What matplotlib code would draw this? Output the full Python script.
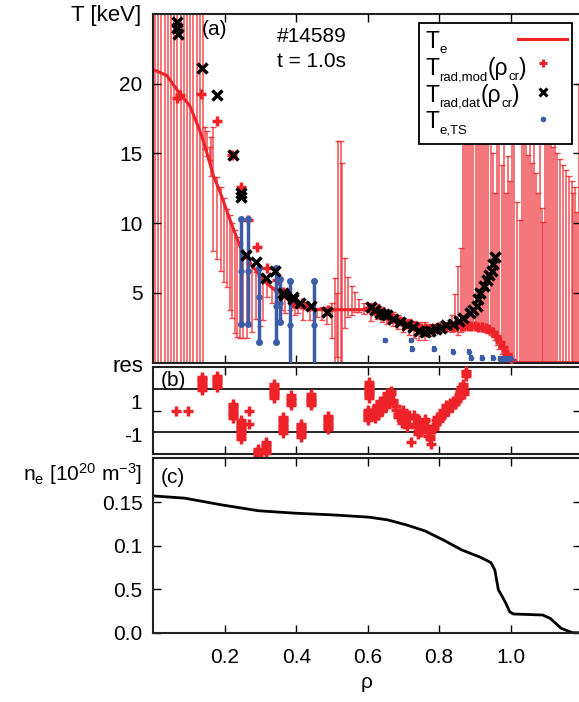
import numpy as np
import matplotlib
matplotlib.use('Agg')
import matplotlib.pyplot as plt
from matplotlib.patches import Rectangle

plt.rcParams['font.family'] = ['Liberation Sans', 'DejaVu Sans']
plt.rcParams['mathtext.fontset'] = 'custom'
plt.rcParams['mathtext.rm'] = 'Liberation Sans'
plt.rcParams['mathtext.it'] = 'Liberation Sans:italic'

# ---- panel (a): temperatures ----
rho_te = [0.0, 0.037, 0.065, 0.102, 0.121, 0.133, 0.150, 0.168, 0.187, 0.215, 0.243, 0.275,
          0.308, 0.345, 0.383, 0.410, 0.440, 0.500, 0.587, 0.620, 0.660, 0.700, 0.746,
          0.780, 0.820, 0.870, 0.915, 0.940, 0.955, 0.970, 0.980, 0.990, 1.005, 1.020, 1.196]
te_line = [21.0, 20.6, 19.6, 18.4, 17.2, 16.4, 15.0, 13.4, 12.2, 10.2, 8.3, 7.0,
           5.9, 5.1, 4.5, 3.95, 3.8, 3.8, 3.8, 3.6, 3.2, 2.85, 2.55,
           2.5, 2.55, 2.6, 2.55, 2.4, 2.1, 1.6, 1.1, 0.6, 0.05, 0.0, 0.0]

# error bars of the synthetic radiation temperature (lower / upper end)
eb_rho = [0.004, 0.013, 0.022, 0.031, 0.040, 0.049, 0.058, 0.067, 0.076, 0.085, 0.094, 0.103,
          0.112, 0.121, 0.130, 0.139,
          0.145, 0.151, 0.157, 0.162, 0.168, 0.177, 0.188, 0.197, 0.207, 0.214, 0.220, 0.228,
          0.235, 0.242, 0.252, 0.261, 0.275, 0.287, 0.298, 0.308, 0.317, 0.331, 0.345, 0.359,
          0.368, 0.382, 0.396, 0.406, 0.420, 0.438, 0.457, 0.471, 0.485, 0.499, 0.508, 0.513,
          0.517, 0.525, 0.528, 0.536, 0.545, 0.555, 0.565, 0.575, 0.590,
          0.610, 0.625, 0.640, 0.655, 0.670, 0.685, 0.700, 0.715, 0.730, 0.745, 0.760, 0.775,
          0.790, 0.805, 0.820, 0.835, 0.845, 0.852, 0.860,
          0.866, 0.872, 0.878, 0.884, 0.890, 0.896, 0.902, 0.908, 0.914, 0.920, 0.926, 0.932,
          0.938, 0.944, 0.951, 0.957, 0.962, 0.968, 0.976, 0.982, 0.988, 0.993, 0.999, 1.005,
          1.011, 1.018, 1.027, 1.033, 1.039, 1.044, 1.049, 1.055, 1.060, 1.066, 1.071, 1.077,
          1.082, 1.088, 1.091, 1.097, 1.103, 1.108, 1.114, 1.119, 1.125, 1.130, 1.139, 1.147,
          1.155, 1.164, 1.172, 1.175, 1.180, 1.186, 1.192]
eb_lo = [0.0] * 16 + \
        [15.3, 14.8, 14.5, 13.4, 8.0, 7.4, 6.6, 5.8, 5.45, 3.8, 3.2, 2.1,
         1.86, 1.8, 1.75, 1.75, 2.2, 3.1, 2.6, 3.05, 4.7, 4.3, 4.4, 3.8,
         3.55, 3.8, 3.4, 3.55, 3.05, 3.05, 3.3, 3.05, 2.8, 1.75, 0.0, 0.4,
         0.0, 0.0, 0.0, 2.5, 3.3, 3.4, 3.6, 3.6, 3.5,
         3.0, 3.1, 2.9, 2.8, 2.6, 2.4, 2.2, 2.0, 1.8, 1.6, 1.6, 1.9,
         2.1, 2.2, 2.3, 2.2, 2.3, 2.0, 2.2,
         2.5, 2.5, 2.4, 2.5, 2.6, 2.5, 2.4, 2.5, 2.4, 2.3, 2.3, 2.2,
         2.1, 2.0, 1.9, 1.6, 1.3, 1.0, 0.6, 0.3, 0.1, 0.0, 0.0, 0.0,
         0.0, 0.0, 0.0, 0.0, 0.0, 0.0, 0.0, 0.0, 0.0, 0.0, 0.0, 0.0,
         0.0, 0.0, 0.0, 0.0, 0.0, 0.0, 0.0, 0.0, 0.0, 0.0, 0.0, 0.0,
         0.0, 0.0, 0.0, 0.0, 0.0, 0.0, 0.0]
eb_hi = [30.0] * 16 + \
        [16.9, 16.6, 15.5, 16.2, 16.9, 13.3, 12.6, 11.8, 11.0, 10.6, 10.0, 9.5,
         9.0, 8.5, 7.9, 7.5, 7.0, 6.5, 6.2, 5.9, 5.7, 5.4, 5.1, 4.9,
         4.8, 4.6, 4.3, 4.1, 4.0, 3.95, 3.9, 4.0, 4.0, 4.3, 6.1, 5.0,
         15.9, 15.9, 14.3, 7.5, 6.15, 5.5, 5.1, 4.6, 4.3,
         4.3, 4.2, 4.0, 3.8, 3.6, 3.4, 3.2, 3.1, 3.0, 2.9, 2.9, 2.8,
         2.8, 2.9, 2.9, 3.4, 4.9, 6.9, 8.2,
         22.0, 24.0, 20.0, 23.0, 24.0, 21.0, 24.0, 22.0, 24.0, 20.0, 23.0, 21.0,
         24.0, 22.0, 15.0, 12.2, 24.0, 22.0, 14.2, 24.0, 12.2, 14.8, 13.0, 23.0,
         21.0, 11.5, 10.2, 24.0, 22.0, 24.0, 14.9, 21.0, 14.3, 23.0, 13.6, 12.2,
         24.0, 11.1, 10.1, 22.0, 24.0, 21.0, 23.0, 15.5, 24.0, 15.0, 14.6, 14.2,
         13.8, 13.4, 13.0, 12.2, 12.6, 10.8, 20.0]

mod_rho = [0.066, 0.074, 0.133, 0.177, 0.221, 0.245, 0.266, 0.290, 0.318, 0.345, 0.363, 0.390,
           0.415, 0.433, 0.489, 0.600, 0.610, 0.620, 0.630, 0.640, 0.650, 0.660, 0.670, 0.680,
           0.690, 0.700, 0.710, 0.720, 0.730, 0.740, 0.750, 0.760, 0.770, 0.780, 0.790, 0.800,
           0.810, 0.820, 0.830, 0.840, 0.850, 0.860, 0.870, 0.880, 0.890, 0.900, 0.910, 0.920,
           0.930, 0.940, 0.950, 0.960, 0.970, 0.980, 0.990, 1.000]
mod_t = [19.0, 19.2, 19.3, 17.3, 14.9, 12.6, 10.2, 8.3, 6.8, 5.9, 5.1, 4.3,
         4.3, 4.1, 3.8, 3.9, 3.8, 3.7, 3.6, 3.55, 3.45, 3.3, 3.2, 3.1,
         3.0, 2.9, 2.8, 2.7, 2.6, 2.55, 2.5, 2.5, 2.45, 2.45, 2.5, 2.5,
         2.55, 2.55, 2.6, 2.6, 2.6, 2.6, 2.65, 2.6, 2.6, 2.6, 2.55, 2.55,
         2.5, 2.4, 2.2, 1.9, 1.5, 1.1, 0.6, 0.2]

dat_rho = [0.066, 0.067, 0.068, 0.135, 0.177, 0.222, 0.244, 0.245, 0.260, 0.288, 0.316, 0.340,
           0.363, 0.365, 0.390, 0.392, 0.410, 0.440, 0.486, 0.610, 0.620, 0.635, 0.645, 0.654,
           0.670, 0.690, 0.710, 0.727, 0.745, 0.760, 0.775, 0.790, 0.805, 0.820, 0.840, 0.855,
           0.868, 0.886, 0.895, 0.905, 0.910, 0.915, 0.925, 0.933, 0.940, 0.947, 0.952, 0.956]
dat_t = [24.4, 24.0, 23.6, 21.1, 19.2, 14.9, 12.2, 11.9, 7.7, 7.2, 6.1, 6.6,
         5.0, 4.85, 4.6, 4.7, 4.3, 4.05, 3.6, 4.0, 3.8, 3.55, 3.5, 3.4,
         3.1, 2.9, 2.7, 2.55, 2.3, 2.2, 2.3, 2.4, 2.5, 2.7, 2.8, 3.0,
         3.2, 3.55, 3.8, 4.1, 4.6, 5.0, 5.5, 5.9, 6.3, 6.6, 7.1, 7.6]

# Thomson scattering
ts_rho = [0.246, 0.266, 0.295, 0.343, 0.355, 0.383, 0.450]
ts_te = [6.6, 6.6, 4.7, 4.1, 4.3, 2.7, 2.7]
ts_lo = [2.8, 2.8, 1.5, 1.5, 2.9, -1.0, -1.0]
ts_hi = [10.3, 10.3, 6.8, 6.8, 6.0, 5.85, 5.85]
ts_edge_rho = [0.648, 0.720, 0.724, 0.786, 0.840, 0.885, 0.890, 0.920, 0.950, 0.970, 0.980, 0.990, 1.000]
ts_edge_te = [1.6, 1.6, 1.0, 1.0, 0.8, 0.8, 0.35, 0.35, 0.35, 0.3, 0.3, 0.3, 0.3]

# ---- panel (b): residuals ----
res_rho = [0.063, 0.098, 0.135, 0.177, 0.222, 0.244, 0.268, 0.293, 0.315, 0.338, 0.363, 0.386,
           0.413, 0.440, 0.488, 0.600, 0.605, 0.615, 0.620, 0.625, 0.630, 0.635, 0.640, 0.645,
           0.650, 0.655, 0.660, 0.665, 0.670, 0.680, 0.685, 0.690, 0.695, 0.700, 0.705, 0.710,
           0.715, 0.721, 0.730, 0.735, 0.740, 0.745, 0.750, 0.760, 0.765, 0.770, 0.775, 0.778,
           0.785, 0.790, 0.795, 0.800, 0.805, 0.810, 0.815, 0.820, 0.825, 0.830, 0.835, 0.840,
           0.845, 0.850, 0.855, 0.858, 0.862, 0.866, 0.870, 0.875]
res_val = [[-0.02], [-0.02],
           [0.95, 1.05, 1.15, 1.25, 1.35, 1.45, 1.55],
           [1.1, 1.2, 1.3, 1.4, 1.5, 1.6],
           [0.3, 0.2, 0.1, 0.0, -0.1, -0.2, -0.35],
           [-0.45, -0.55, -0.65, -0.75, -0.85, -0.95, -1.05, -1.15, -1.3],
           [0.0, -0.63],
           [-1.75, -1.85, -1.95, -2.05],
           [-1.45, -1.55, -1.65, -1.75, -1.85, -1.95],
           [0.6, 0.7, 0.8, 0.9, 1.0, 1.1, 1.25],
           [-0.3, -0.4, -0.5, -0.6, -0.7, -0.8, -0.9, -1.05],
           [0.27, 0.37, 0.47, 0.57, 0.7],
           [-0.6, -0.7, -0.8, -0.9, -1.0, -1.1, -1.2],
           [0.25, 0.35, 0.45, 0.55, 0.65, 0.75],
           [-0.25, -0.35, -0.45, -0.55, -0.65, -0.75, -0.85],
           [0.05, -0.05, -0.15, -0.25, -0.35, -0.45],
           [0.6, 0.7, 0.8, 0.9, 1.0, 1.1, 1.2, 1.3],
           [-0.1, 0.05], [-0.35, -0.2], [0.1, 0.25], [-0.2, -0.05], [0.3, 0.45], [0.0, 0.15],
           [0.45, 0.6], [0.15, 0.3], [0.65, 0.8], [0.35, 0.5], [0.9, 0.75], [0.5, 0.35],
           [0.2, 0.05], [-0.3, -0.15], [-0.1, -0.25], [-0.55, -0.4], [0.05, -0.1], [-0.4, -0.55],
           [-0.75, -0.6], [-0.2, -0.35], [-1.43],
           [-0.2, -0.35], [-0.6, -0.75], [-1.1, -0.95], [-0.45, -0.6], [-0.85, -1.0], [-0.38, -0.5],
           [-0.7, -0.85], [-1.0, -1.15], [-1.3, -1.15], [-1.55],
           [-0.85, -0.7], [-0.6, -0.45], [-0.3, -0.45], [-0.5, -0.35], [-0.15, -0.3], [0.05, -0.1],
           [-0.2, -0.05], [0.25, 0.1], [0.0, 0.15], [0.35, 0.2], [0.15, 0.3], [0.45, 0.3],
           [0.3, 0.45], [0.6, 0.45], [0.75, 0.6], [0.95, 0.8], [1.1, 0.95], [1.25, 1.1], [0.9, 0.75],
           [1.6, 1.72, 1.85]]

# ---- panel (c): density ----
rho_ne = [0.0, 0.087, 0.19, 0.294, 0.397, 0.50, 0.605, 0.656, 0.708, 0.76, 0.811, 0.863,
          0.915, 0.945, 0.956, 0.966, 0.977, 0.987, 0.9975, 1.008, 1.09, 1.111, 1.142, 1.173, 1.196]
ne = [0.157, 0.1545, 0.1468, 0.140, 0.1372, 0.1353, 0.1326, 0.1295, 0.1238, 0.1169, 0.1066, 0.0951,
      0.0867, 0.0805, 0.0721, 0.0491, 0.0414, 0.0338, 0.0241, 0.0215, 0.0203, 0.0165, 0.005, 0.0, 0.0]

# legend entries: (text, subscript?) pieces
legend_rows = [[('T', False), ('e', True)],
               [('T', False), ('rad,mod', True), ('(ρ', False), ('cr', True), (')', False)],
               [('T', False), ('rad,dat', True), ('(ρ', False), ('cr', True), (')', False)],
               [('T', False), ('e,TS', True)]]

red = '#ee2229'
blue = '#3d5ca8'
x_ticks = [0.2, 0.4, 0.6, 0.8, 1.0]
fs = 15

fig = plt.figure(figsize=(5.79, 7.02), dpi=100)
L, W = 0.2651, 0.7375
ax_a = fig.add_axes([L, 0.48333, W, 0.49673])
ax_b = fig.add_axes([L, 0.35328, W, 0.12350])
ax_c = fig.add_axes([L, 0.09872, W, 0.24815])

for ax in (ax_a, ax_b, ax_c):
    ax.set_xlim(0, 1.196)
    ax.set_xticks(x_ticks)
    ax.tick_params(direction='in', length=6, width=1, top=True, right=True,
                   labelsize=fs, pad=8, labelbottom=False)
    for s in ax.spines.values():
        s.set_linewidth(1.5)
        s.set_color('#222222')

# panel a
lo = np.array(eb_lo)
hi = np.array(eb_hi)
mid = (lo + hi) / 2
ax_a.errorbar(eb_rho, mid, yerr=[mid - lo, hi - mid], fmt='none', ecolor=red,
              elinewidth=1.1, capsize=2.5, capthick=1.0, alpha=0.8, zorder=1)
ax_a.plot(rho_te, te_line, color=red, lw=2.2, zorder=2)
ax_a.plot(mod_rho, mod_t, ls='none', marker='+', ms=7, mew=2.5, color=red, zorder=3)
t_ts = np.array(ts_te)
ax_a.errorbar(ts_rho, t_ts, yerr=[t_ts - np.array(ts_lo), np.array(ts_hi) - t_ts], fmt='o',
              ms=3.5, color=blue, ecolor=blue, elinewidth=2.5, capsize=0, zorder=3.5)
ax_a.plot(ts_rho + ts_rho, ts_lo + ts_hi, ls='none', marker='o', ms=4, color=blue, zorder=3.5)
ax_a.errorbar(ts_edge_rho, ts_edge_te, yerr=0.2, fmt='o', ms=3, color=blue, ecolor=blue,
              elinewidth=3, capsize=0, zorder=3.5)
ax_a.plot(dat_rho, dat_t, ls='none', marker='x', ms=7, mew=2.5, color='black', zorder=4)
ax_a.set_ylim(0, 25)
ax_a.set_yticks([5, 10, 15, 20])

# legend drawn by hand: text left, symbol right
ax_a.add_patch(Rectangle((0.6218, 0.6272), 0.980 - 0.6218, 0.9742 - 0.6272, transform=ax_a.transAxes,
                         fc='white', ec='black', lw=1.3, zorder=10, clip_on=False))
big, small = 16.5, 9.5
d_big, d_small, drop = 0.21 * big, 0.21 * small, 3.6
row_base = [0.9016, 0.8249, 0.7483, 0.6719]
for yb, pieces in zip(row_base, legend_rows):
    prev = ax_a.text(0.6375, yb, pieces[0][0], transform=ax_a.transAxes, fontsize=big,
                     va='baseline', zorder=11)
    prev_sub = False
    for txt, sub in pieces[1:]:
        d_prev = d_small if prev_sub else d_big
        d_new = d_small if sub else d_big
        base_prev = -drop if prev_sub else 0.0
        base_new = -drop if sub else 0.0
        dy = d_prev - d_new + (base_new - base_prev)
        prev = ax_a.annotate(txt, xy=(1, 0), xycoords=prev, xytext=(0, dy),
                             textcoords='offset points', fontsize=small if sub else big,
                             va='bottom', ha='left', zorder=11)
        prev_sub = sub
ax_a.plot([0.8536, 0.9684], [0.9283, 0.9283], color=red, lw=2.2, transform=ax_a.transAxes,
          clip_on=False, zorder=11)
ax_a.plot([0.912], [0.8586], marker='+', ms=6, mew=2.2, color=red, transform=ax_a.transAxes,
          clip_on=False, zorder=11)
ax_a.plot([0.9115], [0.7772], marker='x', ms=6, mew=2.2, color='black', transform=ax_a.transAxes,
          clip_on=False, zorder=11)
ax_a.plot([0.9115], [0.6989], marker='o', ms=3, color=blue, transform=ax_a.transAxes,
          clip_on=False, zorder=11)

ax_a.text(0.113, 0.955, '(a)', transform=ax_a.transAxes, fontsize=fs, va='center')
ax_a.text(0.290, 0.935, '#14589', transform=ax_a.transAxes, fontsize=fs, va='center')
ax_a.text(0.290, 0.863, 't = 1.0s', transform=ax_a.transAxes, fontsize=fs, va='center')

# panel b
rb, vb = [], []
for r, vals in zip(res_rho, res_val):
    for v in vals:
        rb.append(r)
        vb.append(v)
ax_b.plot(rb, vb, ls='none', marker='+', ms=7, mew=2.5, color=red, clip_on=False, zorder=3)
ax_b.axhline(1, color='black', lw=1.2)
ax_b.axhline(-1, color='black', lw=1.2)
ax_b.set_ylim(-2, 2)
ax_b.set_yticks([-1.12, 0.4], ['-1', '1'])
ax_b.tick_params(axis='y', length=0)
ax_b.set_yticks([0], minor=True)
ax_b.tick_params(axis='y', which='minor', direction='in', length=6, width=1, right=True)
ax_b.text(0.016, 0.85, '(b)', transform=ax_b.transAxes, fontsize=fs, va='center')

# panel c
ax_c.plot(rho_ne, ne, color='black', lw=2)
ax_c.set_ylim(0, 0.2)
ax_c.set_yticks([0, 0.05, 0.1, 0.15], ['0.0', '0.5', '0.1', '0.15'])
ax_c.tick_params(axis='x', labelbottom=True, pad=11)
ax_c.set_xticklabels(['0.2', '0.4', '0.6', '0.8', '1.0'])
ax_c.set_xlabel('ρ', fontsize=fs, labelpad=4)
ax_c.text(0.016, 0.89, '(c)', transform=ax_c.transAxes, fontsize=fs, va='center')

# axis titles in the left margin
fig.text(141 / 579, 1 - 16 / 702, 'T [keV]', fontsize=16, ha='right', va='center')
fig.text(143 / 579, 1 - 366 / 702, 'res', fontsize=16, ha='right', va='center')
fig.text(142 / 579, 1 - 474 / 702, r'n$_\mathrm{e}$ [10$^{20}$ m$^{-3}$]', fontsize=15,
         ha='right', va='center')

fig.savefig('out.png', dpi=100)
